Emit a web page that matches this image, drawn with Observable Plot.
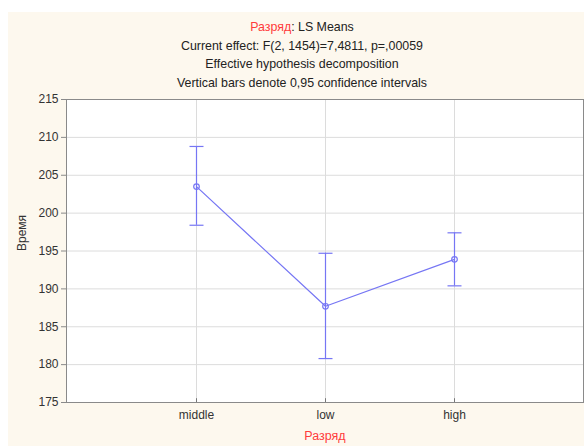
<!DOCTYPE html>
<html><head><meta charset="utf-8">
<script src="https://cdn.jsdelivr.net/npm/d3@7"></script>
<script src="https://cdn.jsdelivr.net/npm/@observablehq/plot@0.6"></script>
<style>
html,body{margin:0;padding:0;background:#fff;}
#box{position:absolute;left:8px;top:12px;width:576px;height:434px;background:#fdf8ee;font-family:"Liberation Sans",Arial,sans-serif;}
#titles{position:absolute;left:0;top:6px;width:588px;text-align:center;font-size:12.4px;color:#222;line-height:18.5px;}
#titles .red{color:#ff3b3b;}
#chart{position:absolute;left:0;top:78px;}
</style></head>
<body>
<div id="box">
  <div id="titles">
    <div><span class="red">Разряд</span>: LS Means</div>
    <div>Current effect: F(2, 1454)=7,4811, p=,00059</div>
    <div>Effective hypothesis decomposition</div>
    <div>Vertical bars denote 0,95 confidence intervals</div>
  </div>
  <div id="chart"></div>
</div>
<script>
const categories = ["middle", "low", "high"];
const means = [203.5, 187.7, 193.9];
const lower = [198.4, 180.8, 190.4];
const upper = [208.8, 194.7, 197.4];
const yTicks = [175, 180, 185, 190, 195, 200, 205, 210, 215];

const data = categories.map((c, i) => ({cat: c, mean: means[i], lo: lower[i], hi: upper[i]}));
const blue = "#7676f4";
const capSymbol = {draw(ctx) { ctx.moveTo(-7, 0); ctx.lineTo(7, 0); }};

const chart = Plot.plot({
  width: 576,
  height: 356,
  marginLeft: 58,
  marginRight: 1,
  marginTop: 9,
  marginBottom: 44,
  style: {fontFamily: "'Liberation Sans', Arial, sans-serif", fontSize: "12px", color: "#333", background: "transparent"},
  x: {type: "point", domain: categories, padding: 1, label: null},
  y: {domain: [175, 215], ticks: yTicks, label: null},
  marks: [
    Plot.frame({fill: "#fff"}),
    Plot.gridY(yTicks, {stroke: "#dcdcdc", strokeOpacity: 1}),
    Plot.gridX(categories, {stroke: "#dcdcdc", strokeOpacity: 1}),
    Plot.frame({stroke: "#8a8a8a"}),
    Plot.axisY(yTicks, {tickSize: 5, tickPadding: 3, stroke: "#8a8a8a", fill: "#333", label: null}),
    Plot.axisX(categories, {tickSize: 0, tickPadding: 8, fill: "#333", label: null}),
    Plot.ruleX(categories, {x: d => d, y1: 175, y2: 175.5, stroke: "#777"}),
    Plot.ruleX(data, {x: "cat", y1: "lo", y2: "hi", stroke: blue, strokeWidth: 1.2}),
    Plot.dot(data, {x: "cat", y: "lo", symbol: capSymbol, stroke: blue, strokeWidth: 1.2}),
    Plot.dot(data, {x: "cat", y: "hi", symbol: capSymbol, stroke: blue, strokeWidth: 1.2}),
    Plot.line(data, {x: "cat", y: "mean", stroke: blue, strokeWidth: 1.2}),
    Plot.dot(data, {x: "cat", y: "mean", r: 2.8, stroke: blue, strokeWidth: 1.2, fill: "none"}),
    Plot.text(["Разряд"], {frameAnchor: "bottom", dy: 37, text: d => d, fill: "#ff3b3b", fontSize: 12.5}),
    Plot.text(["Время"], {frameAnchor: "left", dx: -44, rotate: -90, text: d => d, fill: "#333", fontSize: 12})
  ]
});
document.getElementById("chart").appendChild(chart);
</script>
</body></html>
